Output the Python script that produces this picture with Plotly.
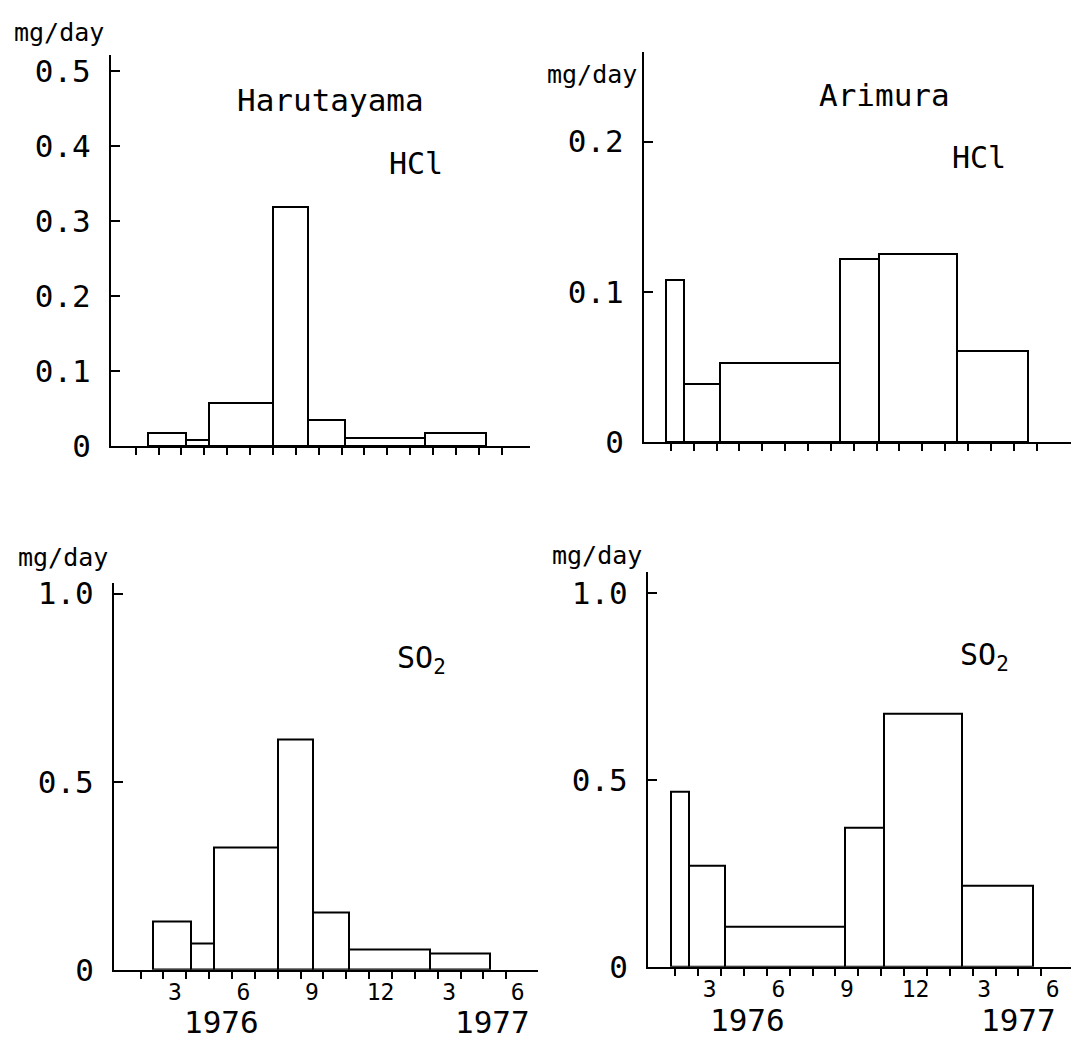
import numpy as np
import plotly.graph_objects as go

W, H = 1071, 1057

# x coordinate = months since 1 Jan 1976 (12 = 1 Jan 1977)
har_edges = [1.53, 3.2, 4.22, 7.02, 8.53, 10.14, 13.67, 16.3]
har_hcl = [0.017, 0.0087, 0.057, 0.318, 0.035, 0.011, 0.018]
har_so2 = [0.129, 0.071, 0.326, 0.612, 0.152, 0.053, 0.043]

ari_edges = [0.8, 1.59, 3.15, 8.42, 10.1, 13.53, 16.64]
ari_hcl = [0.108, 0.039, 0.0525, 0.122, 0.1254, 0.061]
ari_so2 = [0.469, 0.27, 0.107, 0.373, 0.678, 0.218]

month_ticks = list(range(1, 18))
month_label_pos = [2.5, 5.5, 8.5, 11.5, 14.5, 17.5]
month_labels = ["3", "6", "9", "12", "3", "6"]

hcl_left_ticks = [0, 0.1, 0.2, 0.3, 0.4, 0.5]
hcl_left_text = ["0", "0.1", "0.2", "0.3", "0.4", "0.5"]
hcl_right_ticks = [0, 0.1, 0.2]
hcl_right_text = ["0", "0.1", "0.2"]
so2_ticks = [0, 0.5, 1.0]
so2_text = ["0", "0.5", "1.0"]

FONT = "DejaVu Sans Mono"

# panel geometry (pixels) and axis ranges
panels = {
    1: dict(xpx=(111, 530), xr=(-0.08, 18.24), ypx=(449.3, 48.3), yr=(0, 0.5208)),
    2: dict(xpx=(644, 1071), xr=(-0.17, 18.5), ypx=(445, 45), yr=(0, 0.2597)),
    3: dict(xpx=(114, 538), xr=(-0.16, 18.39), ypx=(986, 590), yr=(0, 1.027)),
    4: dict(xpx=(648, 1071), xr=(-0.2, 18.3), ypx=(983, 578), yr=(0, 1.057)),
}

series = {
    1: (har_edges, har_hcl, hcl_left_ticks, hcl_left_text, False),
    2: (ari_edges, ari_hcl, hcl_right_ticks, hcl_right_text, False),
    3: (har_edges, har_so2, so2_ticks, so2_text, True),
    4: (ari_edges, ari_so2, so2_ticks, so2_text, True),
}

fig = go.Figure()
layout = dict(
    width=W, height=H, margin=dict(l=0, r=0, t=0, b=0),
    paper_bgcolor="white", plot_bgcolor="white", showlegend=False,
    font=dict(family=FONT, color="black"),
    bargap=0,
)

for i, p in panels.items():
    edges, vals, yt, ytt, bottom = series[i]
    e = np.array(edges)
    centers = (e[:-1] + e[1:]) / 2
    widths = e[1:] - e[:-1]
    sfx = "" if i == 1 else str(i)
    fig.add_trace(go.Bar(
        x=centers, y=vals, width=widths,
        marker=dict(color="white", line=dict(color="black", width=2)),
        xaxis="x" + sfx, yaxis="y" + sfx, hoverinfo="skip",
    ))
    xd = [p["xpx"][0] / W, p["xpx"][1] / W]
    yd = [1 - p["ypx"][0] / H, 1 - p["ypx"][1] / H]
    xa = dict(
        domain=xd, range=list(p["xr"]), anchor="y" + sfx,
        showline=True, linecolor="black", linewidth=2,
        showgrid=False, zeroline=False, fixedrange=True,
        minor=dict(tickmode="array", tickvals=month_ticks, ticks="outside",
                   ticklen=7, tickwidth=2, tickcolor="black", showgrid=False),
    )
    if bottom:
        xa.update(tickmode="array", tickvals=month_label_pos, ticktext=month_labels,
                  ticks="", showticklabels=True, ticklabelstandoff=1,
                  tickfont=dict(family=FONT, size=23, color="black"))
    else:
        xa.update(tickmode="array", tickvals=[], showticklabels=False, ticks="")
    ya = dict(
        domain=yd, range=list(p["yr"]), anchor="x" + sfx,
        showline=True, linecolor="black", linewidth=2,
        showgrid=False, zeroline=False, fixedrange=True,
        tickmode="array", tickvals=yt, ticktext=ytt,
        ticks="inside", ticklen=9, tickwidth=2, tickcolor="black",
        ticklabelstandoff=12,
        tickfont=dict(family=FONT, size=31, color="black"),
    )
    layout["xaxis" + sfx] = xa
    layout["yaxis" + sfx] = ya


def ann(text, px, py, size, yanchor="middle"):
    return dict(text=text, x=px / W, y=1 - py / H, xref="paper", yref="paper",
                xanchor="center", yanchor=yanchor, showarrow=False,
                font=dict(family=FONT, size=size, color="black"))


annotations = [
    ann("mg/day", 59, 25, 25),
    ann("Harutayama", 330, 94, 31),
    ann("HCl", 416, 159, 30),
    ann("mg/day", 592, 68, 25),
    ann("Arimura", 884, 89, 31),
    ann("HCl", 979, 153, 30),
    ann("mg/day", 63, 563, 25),
    ann("SO<sub>2</sub>", 421, 668, 30),
    ann("mg/day", 597, 561, 25),
    ann("SO<sub>2</sub>", 984, 665, 30),
    ann("1976", 221, 1060, 31, "bottom"),
    ann("1977", 492, 1060, 31, "bottom"),
    ann("1976", 747, 1058, 31, "bottom"),
    ann("1977", 1018, 1058, 31, "bottom"),
]
layout["annotations"] = annotations

fig.update_layout(**layout)
fig.write_html("out.html")
